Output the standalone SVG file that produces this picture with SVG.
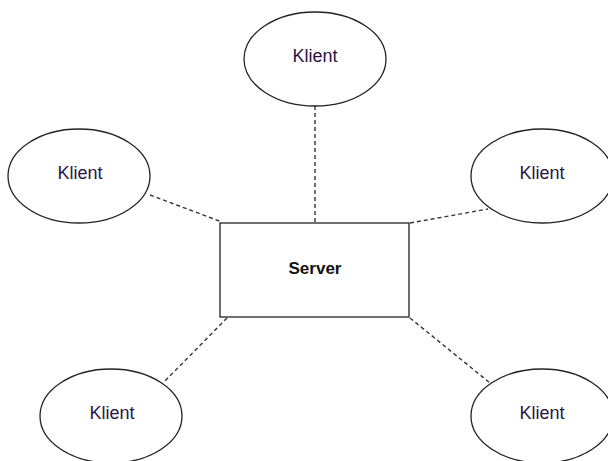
<svg xmlns="http://www.w3.org/2000/svg" width="608" height="461" viewBox="0 0 608 461">
<style>
.node{fill:#fff;stroke:#222;stroke-width:1.3}
.lbl{font-family:"Liberation Sans",Arial,sans-serif;font-size:18px;fill:#2a1446;text-anchor:middle;dominant-baseline:central}
.srv{font-family:"Liberation Sans",Arial,sans-serif;font-size:17px;font-weight:bold;fill:#111;text-anchor:middle;dominant-baseline:central}
.conn line{stroke:#333;stroke-width:1.4;stroke-dasharray:4 3;fill:none}
</style>
<rect width="608" height="461" fill="#fff"/>
<g id="connectors" class="conn">
<line x1="315" y1="106" x2="315" y2="223"/>
<line x1="150" y1="195" x2="222" y2="222"/>
<line x1="410" y1="223" x2="488" y2="209"/>
<line x1="227" y1="318" x2="163" y2="383"/>
<line x1="410" y1="318" x2="490" y2="383"/>
</g>
<g id="server">
<rect class="node" x="220" y="223" width="189" height="94"/>
<text class="srv" x="315" y="268">Server</text>
</g>
<g id="klient-top">
<ellipse class="node" cx="315" cy="59" rx="71" ry="47"/>
<text class="lbl" x="315" y="56">Klient</text>
</g>
<g id="klient-left">
<ellipse class="node" cx="79" cy="176" rx="71" ry="47"/>
<text class="lbl" x="80" y="173">Klient</text>
</g>
<g id="klient-right">
<ellipse class="node" cx="542" cy="176" rx="71" ry="47"/>
<text class="lbl" x="542" y="173">Klient</text>
</g>
<g id="klient-bottom-left">
<ellipse class="node" cx="111" cy="416" rx="71" ry="47"/>
<text class="lbl" x="112" y="413">Klient</text>
</g>
<g id="klient-bottom-right">
<ellipse class="node" cx="542" cy="416" rx="71" ry="47"/>
<text class="lbl" x="542" y="413">Klient</text>
</g>
</svg>
